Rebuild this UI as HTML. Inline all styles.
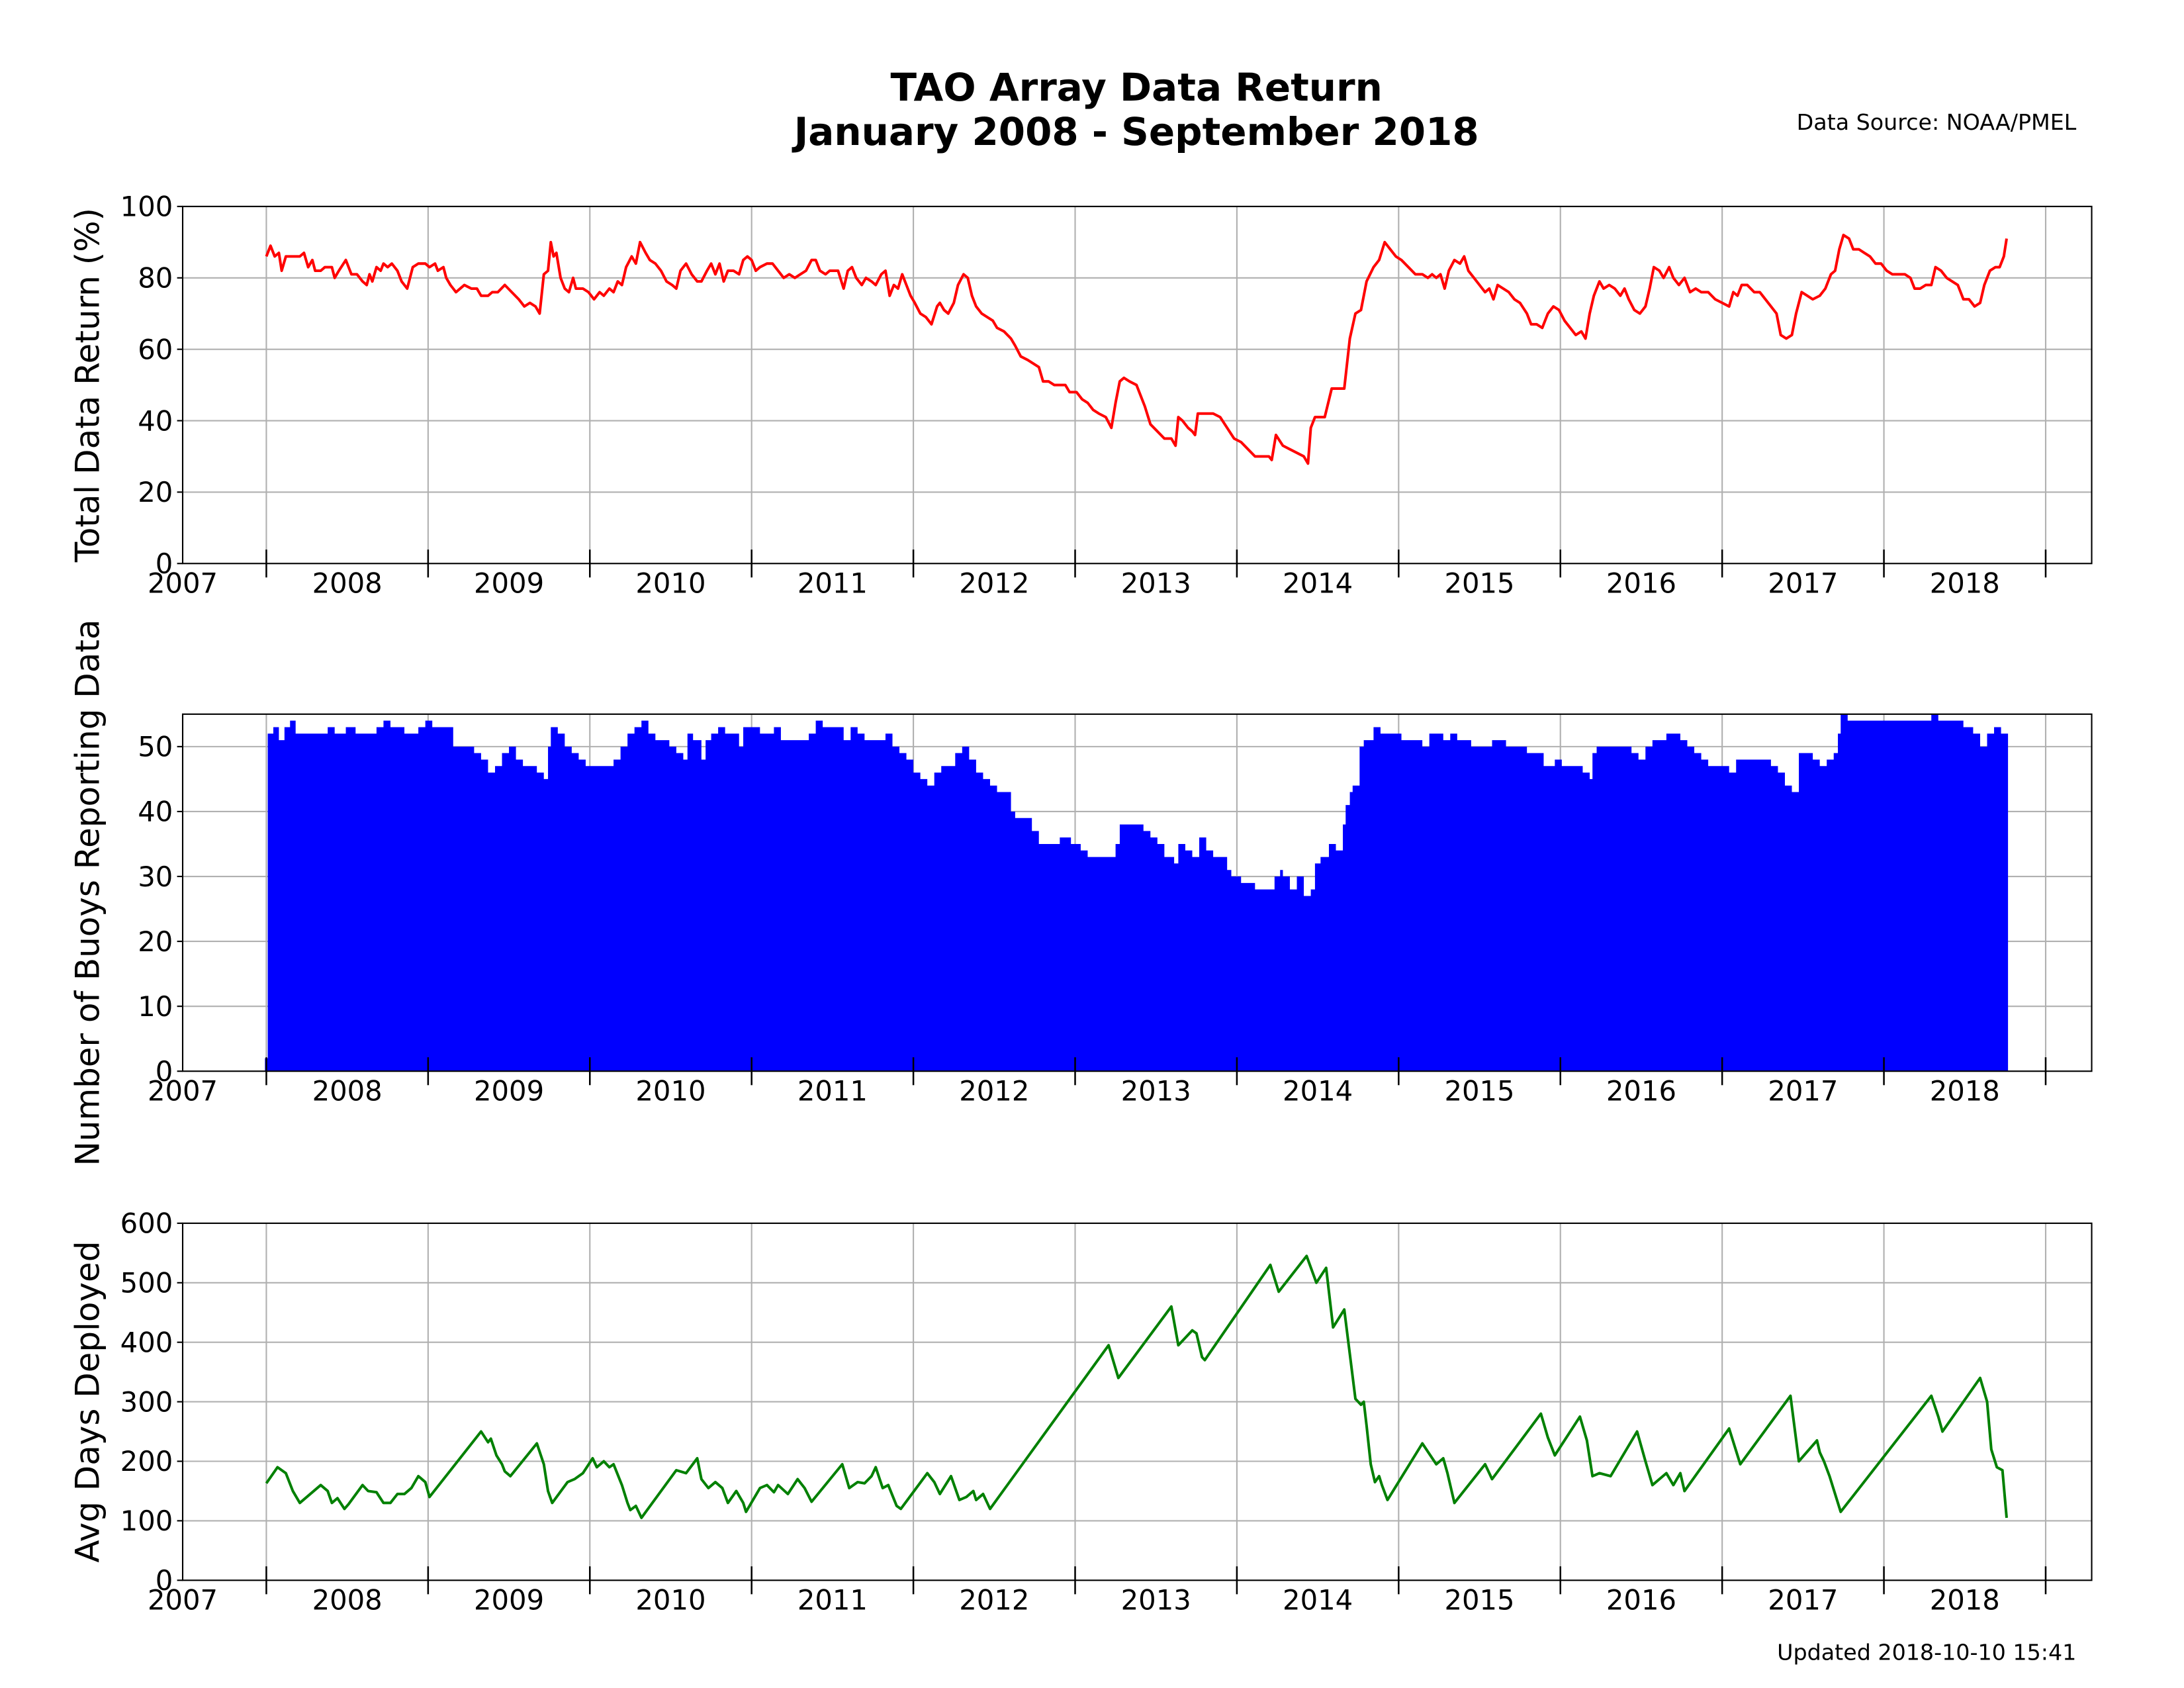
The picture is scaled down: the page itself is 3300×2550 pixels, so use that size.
<!DOCTYPE html>
<html><head><meta charset="utf-8">
<style>
html,body{margin:0;padding:0;background:#fff;}
svg{display:block;}
text{font-family:"DejaVu Sans","Liberation Sans",sans-serif;fill:#000;}
</style></head>
<body>
<svg id="s" width="3300" height="2550" viewBox="0 0 1566.2 1210.2" xmlns="http://www.w3.org/2000/svg">
<rect x="0" y="0" width="1566.2" height="1210.2" fill="#fff"/>
<text x="815" y="72" font-size="27.5" font-weight="bold" text-anchor="middle">TAO Array Data Return</text>
<text x="815" y="104" font-size="27.5" font-weight="bold" text-anchor="middle">January 2008 - September 2018</text>
<text x="1489" y="93" font-size="15.8" text-anchor="end">Data Source: NOAA/PMEL</text>
<text x="1489" y="1190" font-size="15.8" text-anchor="end">Updated 2018-10-10 15:41</text>
<g id="g"></g>
</svg>
<script>
var NS="http://www.w3.org/2000/svg",g=document.getElementById('g');
function el(t,a,txt){var e=document.createElementNS(NS,t);for(var k in a)e.setAttribute(k,a[k]);if(txt!==undefined)e.textContent=txt;g.appendChild(e);return e;}
var L=131,R=1500;
var panels=[
 {top:148,bot:404,max:100,step:20,label:"Total Data Return (%)"},
 {top:512,bot:768,max:55,step:10,label:"Number of Buoys Reporting Data"},
 {top:877,bot:1133,max:600,step:100,label:"Avg Days Deployed"}];
var red=[191,86,194,89,197,86,200,87,202,82,205,86,210,86,215,86,218,87,221,83,224,85,226,82,230,82,233,83,238,83,240,80,243,82,248,85,252,81,256,81,260,79,263,78,265,81,267,79,270,83,273,82,275,84,278,83,281,84,285,82,288,79,292,77,296,83,300,84,305,84,308,83,312,84,314,82,318,83,320,80,323,78,325,77,327,76,330,77,333,78,338,77,342,77,345,75,350,75,353,76,357,76,362,78,367,76,372,74,376,72,380,73,384,72,387,70,390,81,393,82,395,90,397,86,399,87,402,80,405,77,408,76,411,80,413,77,418,77,422,76,426,74,430,76,433,75,437,77,440,76,443,79,446,78,449,83,453,86,456,84,459,90,463,87,466,85,470,84,474,82,478,79,482,78,485,77,488,82,492,84,496,81,500,79,503,79,507,82,510,84,513,81,516,84,519,79,522,82,526,82,530,81,533,85,536,86,539,85,542,82,545,83,550,84,554,84,558,82,562,80,566,81,570,80,574,81,578,82,582,85,585,85,588,82,592,81,595,82,598,82,601,82,605,77,608,82,611,83,614,80,618,78,621,80,625,79,628,78,632,81,635,82,638,75,641,78,644,77,647,81,650,78,653,75,656,73,660,70,664,69,668,67,672,72,674,73,677,71,680,70,684,73,687,78,691,81,694,80,697,75,700,72,704,70,708,69,712,68,715,66,720,65,725,63,728,61,732,58,737,57,741,56,745,55,748,51,752,51,756,50,760,50,764,50,767,48,772,48,776,46,780,45,784,43,788,42,793,41,797,38,800,45,803,51,806,52,810,51,815,50,818,47,821,44,825,39,830,37,835,35,840,35,843,33,845,41,848,40,852,38,855,37,857,36,859,42,863,42,866,42,870,42,875,41,880,38,885,35,890,34,895,32,900,30,905,30,910,30,912,29,915,36,920,33,925,32,930,31,935,30,938,28,940,38,943,41,947,41,950,41,955,49,960,49,964,49,968,63,972,70,976,71,980,79,985,83,989,85,993,90,997,88,1001,86,1005,85,1010,83,1015,81,1020,81,1024,80,1027,81,1030,80,1033,81,1036,77,1039,82,1043,85,1047,84,1050,86,1053,82,1057,80,1061,78,1065,76,1068,77,1071,74,1074,78,1078,77,1082,76,1086,74,1090,73,1095,70,1098,67,1102,67,1106,66,1110,70,1114,72,1118,71,1122,68,1126,66,1130,64,1134,65,1137,63,1140,70,1143,75,1147,79,1150,77,1154,78,1158,77,1162,75,1165,77,1168,74,1172,71,1176,70,1180,72,1183,77,1186,83,1190,82,1193,80,1197,83,1200,80,1204,78,1208,80,1212,76,1216,77,1220,76,1225,76,1230,74,1235,73,1240,72,1243,76,1246,75,1249,78,1253,78,1258,76,1262,76,1266,74,1270,72,1274,70,1277,64,1281,63,1285,64,1288,70,1292,76,1296,75,1300,74,1305,75,1309,77,1313,81,1316,82,1319,88,1322,92,1326,91,1329,88,1333,88,1337,87,1341,86,1345,84,1349,84,1353,82,1357,81,1361,81,1366,81,1370,80,1373,77,1377,77,1381,78,1385,78,1388,83,1392,82,1396,80,1400,79,1404,78,1408,74,1412,74,1416,72,1420,73,1423,78,1427,82,1431,83,1434,83,1437,86,1439,91];
var blue=[190,2,192,52,196,53,200,51,204,53,208,54,212,52,220,52,235,53,240,52,248,53,255,52,265,52,270,53,275,54,280,53,290,52,300,53,305,54,310,53,325,50,340,49,345,48,350,46,355,47,360,49,365,50,370,48,375,47,385,46,390,45,393,50,395,53,400,52,405,50,410,49,415,48,420,47,430,47,440,48,445,50,450,52,455,53,460,54,465,52,470,51,475,51,480,50,485,49,490,48,493,52,497,51,503,48,506,51,510,52,515,53,520,52,530,50,533,53,540,53,545,52,555,53,560,51,565,51,575,51,580,52,585,54,590,53,600,53,605,51,610,53,615,52,620,51,630,51,635,52,640,50,645,49,650,48,655,46,660,45,665,44,670,46,675,47,680,47,685,49,690,50,695,48,700,46,705,45,710,44,715,43,725,40,728,39,740,37,745,35,755,35,760,36,768,35,775,34,780,33,795,33,800,35,803,38,815,38,820,37,825,36,830,35,835,33,842,32,845,35,850,34,855,33,860,36,865,34,870,33,880,31,883,30,890,29,900,28,910,28,914,30,918,31,920,30,925,28,930,30,935,27,940,28,943,32,947,33,953,35,958,34,963,38,965,41,968,43,970,44,975,50,978,51,985,53,990,52,1005,51,1020,50,1025,52,1035,51,1040,52,1045,51,1055,50,1070,51,1080,50,1095,49,1107,47,1115,48,1120,47,1135,46,1140,45,1142,49,1145,50,1165,50,1170,49,1175,48,1180,50,1185,51,1195,52,1205,51,1210,50,1215,49,1220,48,1225,47,1240,46,1245,48,1265,48,1270,47,1275,46,1280,44,1285,43,1290,49,1300,48,1305,47,1310,48,1315,49,1318,52,1320,55,1325,54,1385,55,1390,54,1408,53,1415,52,1420,50,1425,52,1430,53,1435,52,1439,52];
var green=[191,163,199,190,205,180,210,150,215,130,220,140,230,160,235,150,238,130,242,138,247,120,250,128,260,160,264,150,270,148,275,130,280,130,285,145,290,145,295,155,300,175,305,165,308,140,345,250,350,232,352,238,356,210,360,195,362,183,366,175,385,230,390,195,393,150,396,130,407,165,412,170,418,180,425,205,428,190,433,200,437,190,440,195,446,160,450,130,452,118,456,125,460,105,485,185,492,180,500,205,503,170,508,155,513,165,518,155,522,130,528,150,533,130,535,115,545,155,550,160,555,148,558,160,565,145,572,170,577,155,582,132,604,195,609,155,615,165,620,163,625,175,628,190,633,155,637,160,643,125,646,120,665,180,670,165,674,145,682,175,688,135,693,140,698,150,700,135,705,145,710,120,795,395,802,340,840,460,845,395,855,420,858,415,862,375,864,370,911,530,917,485,937,545,944,500,951,525,956,425,964,455,968,380,972,305,976,295,978,300,980,260,983,195,986,165,989,175,991,160,995,135,1020,230,1030,195,1035,205,1038,180,1043,130,1065,195,1070,170,1105,280,1110,240,1115,210,1133,275,1138,235,1142,175,1147,180,1155,175,1174,250,1180,200,1185,160,1195,180,1200,160,1205,180,1208,150,1240,255,1248,195,1284,310,1290,200,1303,235,1305,215,1308,200,1312,175,1320,115,1385,310,1390,275,1393,250,1420,340,1425,300,1428,220,1432,190,1436,185,1439,105];
var data=[red,blue,green],cols=["#ff0000","#0000ff","#008000"];
panels.forEach(function(p,i){
 var H=p.bot-p.top; function Y(v){return p.bot-v*H/p.max;}
 // grid
 for(var v=p.step;v<=p.max;v+=p.step){ if(v===p.max && i!==1) continue; el('line',{x1:L,x2:R,y1:Y(v),y2:Y(v),stroke:'#b0b0b0','stroke-width':1});}
 for(var k=0;k<12;k++){var x=191+116*k; el('line',{x1:x,x2:x,y1:p.top,y2:p.bot,stroke:'#b0b0b0','stroke-width':1});}
 // data
 var d=data[i],s;
 if(i===1){
  s='M'+d[0]+','+p.bot;
  for(var j=0;j<d.length;j+=2){ var nx=(j+2<d.length)?d[j+2]:d[j]+1; s+=' L'+d[j]+','+Y(d[j+1])+' L'+nx+','+Y(d[j+1]);}
  s+=' L'+(d[d.length-2]+1)+','+p.bot+' Z';
  el('path',{d:s,fill:cols[i],stroke:'none'});
 } else {
  s='';
  for(var j=0;j<d.length;j+=2) s+=(j?' L':'M')+d[j]+','+Y(d[j+1]).toFixed(2);
  el('path',{d:s,fill:'none',stroke:cols[i],'stroke-width':1.9,'stroke-linejoin':'round'});
 }
 // frame
 el('rect',{x:L,y:p.top,width:R-L,height:H,fill:'none',stroke:'#000','stroke-width':1});
 // y ticks
 for(var v=0;v<=p.max;v+=p.step){ el('line',{x1:L-4,x2:L,y1:Y(v),y2:Y(v),stroke:'#000','stroke-width':1}); el('text',{x:L-7,y:Y(v)+7,'font-size':19.8,'text-anchor':'end'},String(v));}
 // x major ticks
 for(var k=0;k<12;k++){var x=191+116*k; el('line',{x1:x,x2:x,y1:p.bot-10,y2:p.bot+10,stroke:'#000','stroke-width':1.2});}
 el('text',{x:L,y:p.bot+21,'font-size':19.8,'text-anchor':'middle'},'2007');
 for(var k=0;k<11;k++){ el('text',{x:249+116*k,y:p.bot+21,'font-size':19.8,'text-anchor':'middle'},String(2008+k)); }
 var cy=[276,640,1005][i];
 el('text',{x:0,y:0,'font-size':23.7,'text-anchor':'middle',transform:'translate(71,'+cy+') rotate(-90)'},p.label);
});
</script>
</body></html>
